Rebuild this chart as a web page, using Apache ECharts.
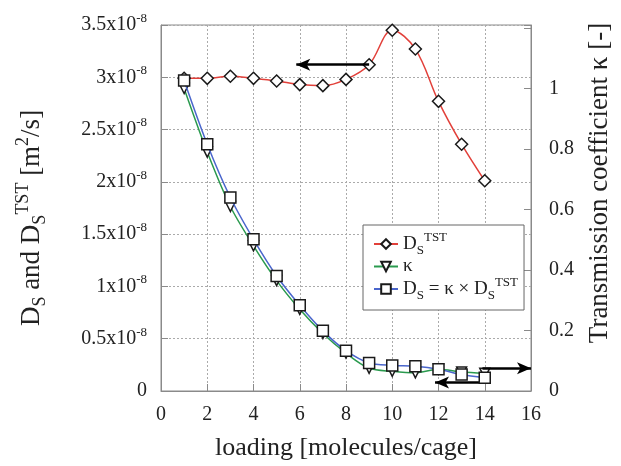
<!DOCTYPE html>
<html>
<head>
<meta charset="utf-8">
<script src="https://cdn.jsdelivr.net/npm/echarts@6/dist/echarts.min.js"></script>
<style>
  html, body { margin: 0; padding: 0; background: #fff; }
  #chart { width: 621px; height: 466px; }
</style>
</head>
<body>
<div id="chart"></div>
<script>
// loading [molecules/cage]
var loading = [1, 2, 3, 4, 5, 6, 7, 8, 9, 10, 11, 12, 13, 14];
// D_S^TST, in units of 1e-8 m2/s
var dTST = [2.99, 2.99, 3.01, 2.99, 2.965, 2.93, 2.92, 2.98, 3.12, 3.45, 3.27, 2.77, 2.36, 2.01];
// transmission coefficient kappa (right axis)
var kappa = [1.0, 0.79, 0.61, 0.48, 0.365, 0.27, 0.19, 0.125, 0.075, 0.065, 0.06, 0.072, 0.063, 0.059];
// D_S = kappa x D_S^TST, in units of 1e-8 m2/s
var dS = [2.97, 2.36, 1.85, 1.45, 1.10, 0.82, 0.575, 0.385, 0.267, 0.245, 0.236, 0.208, 0.157, 0.126];

// axis ranges / ticks
var xTicks = [0, 16, 2];
var leftTicks = [0, 3.5, 0.5];
var rightTicks = [0, 1.21, 0.2];

// arrows [x0, y0, x1, y1]
var arrowsLeft = [[9, 3.12, 5.85, 3.12], [13.9, 0.082, 11.85, 0.082]];
var arrowsRight = [[13.9, 0.075, 16, 0.075]];

var serif = "'Liberation Serif', 'Times New Roman', serif";
var grey = '#8a8a8a';

function pairs(xs, ys) {
    return xs.map(function (x, i) { return [x, ys[i]]; });
}
function arrowData(list) {
    return list.map(function (a) {
        return [{ coord: [a[0], a[1]] }, { coord: [a[2], a[3]] }];
    });
}

var supRich = {
    m: { fontSize: 19, fontFamily: serif, color: '#222', lineHeight: 26 },
    sub: { fontSize: 13, fontFamily: serif, color: '#222', lineHeight: 13, verticalAlign: 'bottom' },
    sup: { fontSize: 13, fontFamily: serif, color: '#222', lineHeight: 13, verticalAlign: 'top' }
};
var nameRich = {
    m: { fontSize: 27, fontFamily: serif, color: '#222', lineHeight: 35 },
    sub: { fontSize: 18, fontFamily: serif, color: '#222', lineHeight: 18, verticalAlign: 'bottom' },
    sup: { fontSize: 18, fontFamily: serif, color: '#222', lineHeight: 18, verticalAlign: 'top' }
};
var tickRich = {
    m: { fontSize: 20, fontFamily: serif, color: '#222', lineHeight: 26 },
    sup: { fontSize: 13, fontFamily: serif, color: '#222', lineHeight: 13, verticalAlign: 'top' }
};

var legendNames = {
    'DTST': '{m|D}{sub|S}{sup|TST}',
    'kappa': '{m|κ}',
    'DS': '{m|D}{sub|S}{m| = κ × D}{sub|S}{sup|TST}'
};

var chartDom = document.getElementById('chart');
var myChart = echarts.init(chartDom);

var marker = { color: '#fff', borderColor: '#1a1a1a', borderWidth: 1.5 };

var option = {
    animation: false,
    grid: {
        left: 161, right: 86, top: 25, bottom: 70,
        show: true, borderColor: grey, borderWidth: 1
    },
    legend: {
        data: ['DTST', 'kappa', 'DS'],
        orient: 'vertical',
        left: 363, top: 225,
        padding: [6, 6, 8, 10],
        itemGap: 0,
        itemWidth: 24, itemHeight: 12,
        backgroundColor: '#fff',
        borderColor: '#666', borderWidth: 1,
        borderRadius: 0,
        formatter: function (name) { return legendNames[name]; },
        textStyle: { rich: supRich }
    },
    xAxis: {
        type: 'value',
        min: xTicks[0], max: xTicks[1], interval: xTicks[2],
        axisLine: { lineStyle: { color: grey } },
        axisTick: { inside: true, length: 7, lineStyle: { color: grey } },
        splitLine: { show: true, lineStyle: { color: '#aaa', type: [2, 2], width: 1 } },
        axisLabel: { fontSize: 20, fontFamily: serif, color: '#222', margin: 14 },
        name: 'loading [molecules/cage]',
        nameLocation: 'middle',
        nameGap: 44,
        nameTextStyle: { fontSize: 26, fontFamily: serif, color: '#222' }
    },
    yAxis: [
        {
            type: 'value',
            min: leftTicks[0], max: leftTicks[1], interval: leftTicks[2],
            axisLine: { show: true, lineStyle: { color: grey } },
            axisTick: { show: true, inside: true, length: 7, lineStyle: { color: grey } },
            splitLine: { show: true, lineStyle: { color: '#aaa', type: [2, 2], width: 1 } },
            axisLabel: {
                margin: 14,
                formatter: function (v) {
                    if (v === 0) return '{m|0}';
                    return '{m|' + v + 'x10}{sup|-8}';
                },
                rich: tickRich
            },
            name: '{m|D}{sub|S}{m| and D}{sub|S}{sup|TST}{m| [m}{sup|2}{m|/s]}',
            nameLocation: 'middle',
            nameRotate: 90,
            nameGap: 112,
            nameTextStyle: { rich: nameRich, padding: [0, 20, 0, 0] }
        },
        {
            type: 'value',
            position: 'right',
            min: rightTicks[0], max: rightTicks[1], interval: rightTicks[2],
            axisLine: { show: true, lineStyle: { color: grey } },
            axisTick: { show: true, inside: true, length: 7, lineStyle: { color: grey } },
            splitLine: { show: false },
            axisLabel: {
                margin: 18,
                fontSize: 20, fontFamily: serif, color: '#222',
                formatter: function (v) { return v > 1.001 ? '' : String(+v.toFixed(1)); }
            },
            name: 'Transmission coefficient κ [-]',
            nameLocation: 'middle',
            nameRotate: 90,
            nameGap: 55,
            nameTextStyle: { fontSize: 27, fontFamily: serif, color: '#222', padding: [0, 0, 0, 50] }
        }
    ],
    series: [
        {
            name: 'DTST',
            type: 'line',
            yAxisIndex: 0,
            data: pairs(loading, dTST),
            smooth: 0.35,
            symbol: 'diamond',
            symbolSize: 12,
            showAllSymbol: true,
            lineStyle: { color: '#e2403a', width: 1.5 },
            itemStyle: marker,
            z: 3,
            markLine: {
                silent: true,
                symbol: ['none', 'arrow'],
                symbolSize: [9, 14],
                label: { show: false },
                lineStyle: { color: '#000', width: 2.5, type: 'solid' },
                data: arrowData(arrowsLeft)
            }
        },
        {
            name: 'kappa',
            type: 'line',
            yAxisIndex: 1,
            data: pairs(loading, kappa),
            smooth: 0.3,
            symbol: 'triangle',
            symbolRotate: 180,
            symbolSize: 10,
            showAllSymbol: true,
            lineStyle: { color: '#2a9a4e', width: 1.5 },
            itemStyle: marker,
            z: 4,
            markLine: {
                silent: true,
                symbol: ['none', 'arrow'],
                symbolSize: [9, 14],
                label: { show: false },
                lineStyle: { color: '#000', width: 2.5, type: 'solid' },
                data: arrowData(arrowsRight)
            }
        },
        {
            name: 'DS',
            type: 'line',
            yAxisIndex: 0,
            data: pairs(loading, dS),
            smooth: 0.3,
            symbol: 'rect',
            symbolSize: 11,
            showAllSymbol: true,
            lineStyle: { color: '#4a66cc', width: 1.5 },
            itemStyle: marker,
            z: 5
        }
    ]
};

option && myChart.setOption(option);
</script>
</body>
</html>
